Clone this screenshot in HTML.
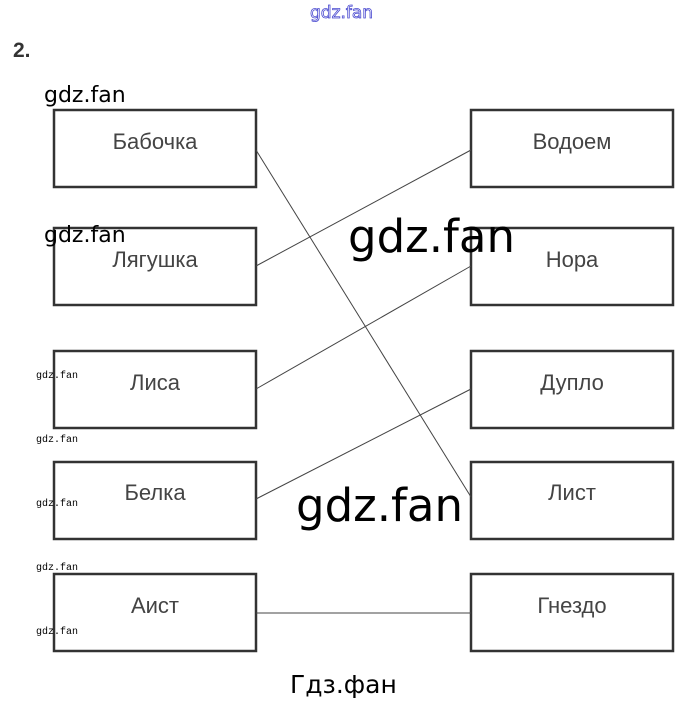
<!DOCTYPE html>
<html><head><meta charset="utf-8"><style>
html,body{margin:0;padding:0;background:#fff;}
svg{display:block;}
</style></head><body>
<svg width="685" height="703" xmlns="http://www.w3.org/2000/svg">
<rect width="685" height="703" fill="#fff"/>
<text x="310" y="18" font-family="DejaVu Sans, sans-serif" font-size="17" fill="#fff" stroke="#4a4ad0" stroke-width="0.8">gdz.fan</text>
<text x="13" y="57" font-family="Liberation Sans, sans-serif" font-size="21" font-weight="bold" fill="#333">2.</text>
<g fill="none" stroke="#333" stroke-width="2.5">
<rect x="54" y="110" width="202" height="77"/>
<rect x="54" y="228" width="202" height="77"/>
<rect x="54" y="351" width="202" height="77"/>
<rect x="54" y="462" width="202" height="77"/>
<rect x="54" y="574" width="202" height="77"/>
<rect x="471" y="110" width="202" height="77"/>
<rect x="471" y="228" width="202" height="77"/>
<rect x="471" y="351" width="202" height="77"/>
<rect x="471" y="462" width="202" height="77"/>
<rect x="471" y="574" width="202" height="77"/>
</g>
<g stroke="#444" stroke-width="1">
<line x1="256" y1="150" x2="471" y2="497"/>
<line x1="256" y1="266" x2="471" y2="150"/>
<line x1="256" y1="389" x2="471" y2="266"/>
<line x1="256" y1="499" x2="471" y2="389"/>
<line x1="256" y1="613" x2="471" y2="613"/>
</g>
<g font-family="Liberation Sans, sans-serif" font-size="22" fill="#444" text-anchor="middle">
<text x="155" y="149">Бабочка</text>
<text x="155" y="267">Лягушка</text>
<text x="155" y="390">Лиса</text>
<text x="155" y="500">Белка</text>
<text x="155" y="613">Аист</text>
<text x="572" y="149">Водоем</text>
<text x="572" y="267">Нора</text>
<text x="572" y="390">Дупло</text>
<text x="572" y="500">Лист</text>
<text x="572" y="613">Гнездо</text>
</g>
<g font-family="DejaVu Sans, sans-serif" fill="#000">
<text x="44" y="102" font-size="22">gdz.fan</text>
<text x="44" y="242" font-size="22">gdz.fan</text>
<text x="348" y="252" font-size="45">gdz.fan</text>
<text x="296" y="521" font-size="45">gdz.fan</text>
<text x="290" y="693" font-size="25">Гдз.фан</text>
</g>
<g font-family="Liberation Mono, monospace" font-size="10" fill="#000">
<text x="36" y="378">gdz.fan</text>
<text x="36" y="442">gdz.fan</text>
<text x="36" y="506">gdz.fan</text>
<text x="36" y="570">gdz.fan</text>
<text x="36" y="634">gdz.fan</text>
</g>
</svg>
</body></html>
